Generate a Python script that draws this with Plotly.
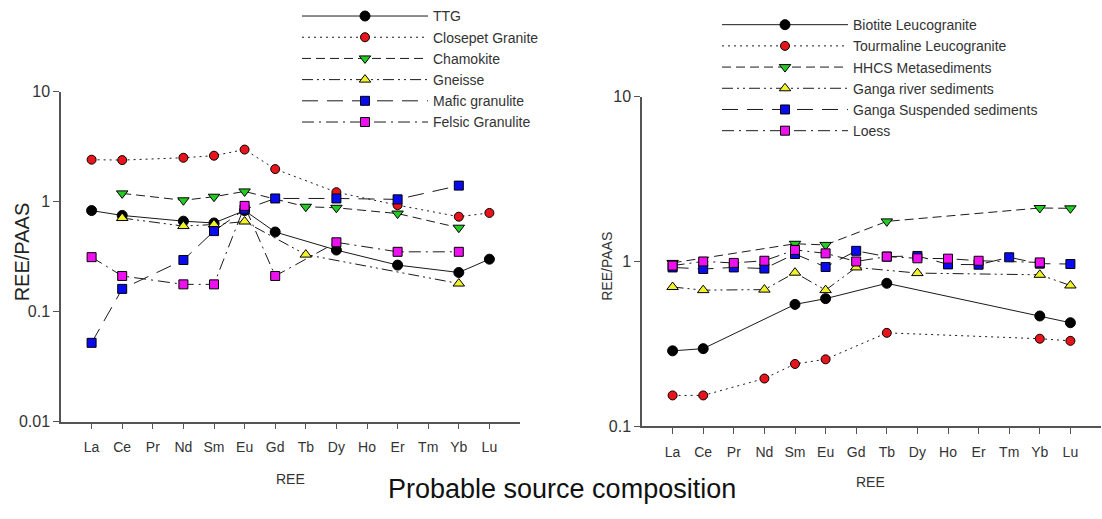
import plotly.graph_objects as go

REE = ["La", "Ce", "Pr", "Nd", "Sm", "Eu", "Gd", "Tb", "Dy", "Ho", "Er", "Tm", "Yb", "Lu"]

# Left panel series (REE/PAAS)
TTG = [0.83, 0.75, None, 0.665, 0.64, 0.83, 0.53, None, 0.363, None, 0.265, None, 0.227, 0.30]
Closepet = [2.41, 2.39, None, 2.51, 2.62, 2.98, 1.98, None, 1.22, None, 0.93, None, 0.73, 0.79]
Chamokite = [None, 1.19, None, 1.03, 1.11, 1.24, None, 0.90, 0.88, None, 0.78, None, 0.58, None]
Gneisse = [None, 0.71, None, 0.60, 0.62, 0.66, None, 0.33, None, None, None, None, 0.18, None]
Mafic = [0.052, 0.161, None, 0.295, 0.54, 0.85, 1.07, None, 1.07, None, 1.05, None, 1.40, None]
Felsic = [0.313, 0.211, None, 0.177, 0.177, 0.916, 0.211, None, 0.427, None, 0.35, None, 0.35, None]

# Right panel series (REE/PAAS)
Biotite = [0.287, 0.296, None, None, 0.549, 0.595, None, 0.737, None, None, None, None, 0.467, 0.425]
Tourmaline = [0.154, 0.154, None, 0.195, 0.239, 0.255, None, 0.369, None, None, None, None, 0.34, 0.33]
HHCS = [0.98, None, None, None, 1.28, 1.26, None, 1.75, None, None, None, None, 2.11, 2.10]
GangaRiver = [0.70, 0.67, None, 0.675, 0.855, 0.67, 0.92, None, 0.85, None, None, None, 0.83, 0.715]
GangaSusp = [0.92, 0.90, 0.92, 0.906, 1.11, 0.926, 1.16, 1.07, 1.08, 0.96, 0.956, 1.06, 0.97, 0.965]
Loess = [0.944, 1.0, 0.98, 1.01, 1.175, 1.12, 1.0, 1.07, 1.045, 1.04, 1.01, None, 0.987, None]

left_names = ["TTG", "Closepet Granite", "Chamokite", "Gneisse", "Mafic granulite", "Felsic Granulite"]
right_names = ["Biotite Leucogranite", "Tourmaline Leucogranite", "HHCS Metasediments",
               "Ganga river sediments", "Ganga Suspended sediments", "Loess"]

styles = [
    dict(symbol="circle", color="#000000", dash="solid", size=10),
    dict(symbol="circle", color="#e8141b", dash="2px,4px", size=9),
    dict(symbol="triangle-down", color="#22cc22", dash="9px,5px", size=10),
    dict(symbol="triangle-up", color="#f2f22a", dash="11px,4px,2px,4px,2px,4px", size=10),
    dict(symbol="square", color="#0a0af0", dash="16px,9px", size=9),
    dict(symbol="square", color="#ee10ee", dash="12px,5px,2px,5px", size=9),
]

xs = list(range(len(REE)))
fig = go.Figure()

def add(series, name, st, xa, ya, legend):
    pts = [(x, v) for x, v in zip(xs, series) if v is not None]
    fig.add_trace(go.Scatter(
        x=[p[0] for p in pts], y=[p[1] for p in pts], name=name, mode="lines+markers",
        xaxis=xa, yaxis=ya, legend=legend,
        line=dict(color="#1a1a1a", width=1, dash=st["dash"]),
        marker=dict(symbol=st["symbol"], size=st["size"], color=st["color"],
                    line=dict(color="#000000", width=1)),
    ))

for s, n, st in zip([TTG, Closepet, Chamokite, Gneisse, Mafic, Felsic], left_names, styles):
    add(s, n, st, "x", "y", "legend")
for s, n, st in zip([Biotite, Tourmaline, HHCS, GangaRiver, GangaSusp, Loess], right_names, styles):
    add(s, n, st, "x2", "y2", "legend2")

W, H = 1102, 519
axis_common = dict(showline=True, linecolor="#555555", linewidth=1.5, ticks="outside",
                   ticklen=6, tickcolor="#555555", showgrid=False, zeroline=False,
                   mirror=False)

xcommon = dict(axis_common, tickvals=xs, ticktext=REE, range=[-1, 14],
               tickfont=dict(family="Liberation Sans, Arial", size=14, color="#333333"),
               ticklabelstandoff=6)

fig.update_layout(
    width=W, height=H, margin=dict(l=0, r=0, t=0, b=0),
    paper_bgcolor="white", plot_bgcolor="white",
    font=dict(family="Liberation Sans, Arial", color="#333333"),
    xaxis=dict(xcommon, domain=[61 / W, 520 / W], anchor="y"),
    yaxis=dict(axis_common, type="log", range=[-2, 1], domain=[1 - 427 / H, 1 - 84 / H],
               tickvals=[0.01, 0.1, 1, 10], ticktext=["0.01", "0.1", "1", "10"],
               tickfont=dict(size=16, color="#333333"), anchor="x"),
    xaxis2=dict(xcommon, domain=[642 / W, 1101 / W], anchor="y2"),
    yaxis2=dict(axis_common, type="log", range=[-1, 1], domain=[1 - 432 / H, 1 - 89 / H],
                tickvals=[0.1, 1, 10], ticktext=["0.1", "1", "10"],
                tickfont=dict(size=16, color="#333333"), anchor="x2"),
    legend=dict(x=297 / W, y=1 + 11 / H, xanchor="left", yanchor="top", itemwidth=126,
                font=dict(size=14, color="#333333"), bgcolor="rgba(0,0,0,0)",
                tracegroupgap=0),
    legend2=dict(x=717 / W, y=1 + 2 / H, xanchor="left", yanchor="top", itemwidth=126,
                 font=dict(size=14, color="#333333"), bgcolor="rgba(0,0,0,0)",
                 tracegroupgap=0),
    showlegend=True,
)

ann = [
    dict(text="REE/PAAS", x=22 / W, y=1 - 251 / H, textangle=-90, font=dict(size=20, color="#222222")),
    dict(text="REE/PAAS", x=607 / W, y=1 - 266 / H, textangle=-90, font=dict(size=14, color="#333333")),
    dict(text="REE", x=290 / W, y=1 - 487 / H, font=dict(size=14, color="#333333")),
    dict(text="REE", x=870 / W, y=1 - 490 / H, font=dict(size=14, color="#333333")),
    dict(text="Probable source composition", x=562 / W, y=1 - 497 / H, font=dict(size=27, color="#111111")),
]
for a in ann:
    fig.add_annotation(xref="paper", yref="paper", showarrow=False, xanchor="center",
                       yanchor="middle", **a)

fig.write_html("out.html")
